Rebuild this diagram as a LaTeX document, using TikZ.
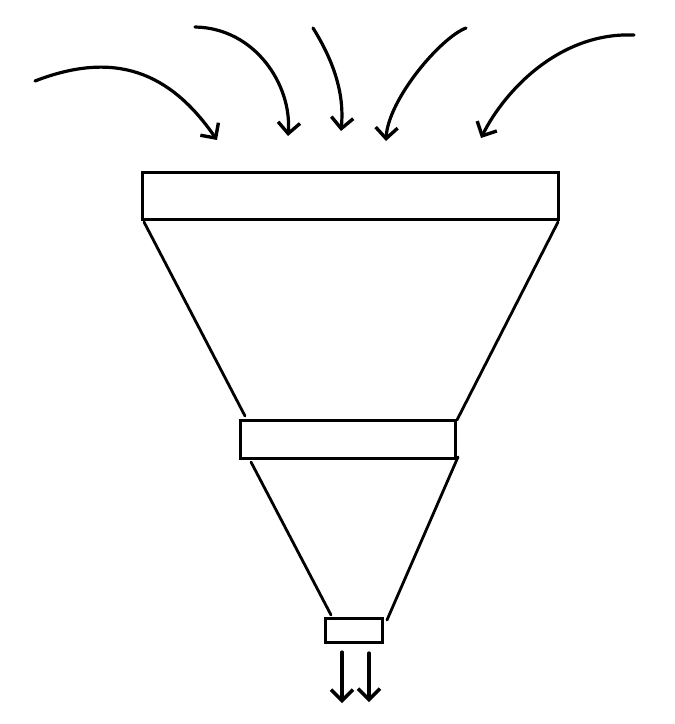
\documentclass[tikz,border=0pt]{standalone}
\usetikzlibrary{arrows.meta}
\begin{document}
\begin{tikzpicture}[x=1pt,y=-1pt,
  pen/.style={line width=3.2pt,line cap=round,line join=round},
  bar/.style={draw,rectangle,inner sep=0pt,line width=3pt},
  side/.style={line width=2.8pt,line cap=round},
  arr/.style={pen,-{Straight Barb[length=11pt,width=22pt,line width=3.4pt]}}]
\useasboundingbox (0,0) rectangle (675,724);
\node[bar,minimum width=416pt,minimum height=47pt] (top) at (350,195.5) {};
\node[bar,minimum width=215pt,minimum height=38pt] (mid) at (347.5,439) {};
\node[bar,minimum width=57pt,minimum height=24pt] (low) at (353.5,630) {};
% funnel sides
\coordinate (a1) at (144,222); \coordinate (a2) at (245,416);
\coordinate (b1) at (558,222); \coordinate (b2) at (457,420);
\coordinate (c1) at (251,462); \coordinate (c2) at (331,615);
\coordinate (d1) at (458,457); \coordinate (d2) at (387,620);
\draw[side] (a1) -- (a2);
\draw[side] (b1) -- (b2);
\draw[side] (c1) -- (c2);
\draw[side] (d1) -- (d2);
% incoming arrows
\coordinate (s1) at (35,81);  \coordinate (t1) at (217,140);
\coordinate (s2) at (195,27); \coordinate (t2) at (288,136);
\coordinate (s3) at (313,28); \coordinate (t3) at (341,131);
\coordinate (s4) at (466,28); \coordinate (t4) at (386,141);
\coordinate (s5) at (634,35); \coordinate (t5) at (481,138);
\draw[arr] (s1) .. controls (115,50) and (170,72) .. (t1);
\draw[arr] (s2) .. controls (255,28) and (292,85) .. (t2);
\draw[arr] (s3) .. controls (338,68) and (344,100) .. (t3);
\draw[arr] (s4) .. controls (440,38) and (388,100) .. (t4);
\draw[arr] (s5) .. controls (560,32) and (505,90) .. (t5);
% outgoing arrows
\coordinate (o1) at (342,703); \coordinate (o2) at (369,702);
\draw[arr] (342,652) -- (o1);
\draw[arr] (369,653) -- (o2);
\end{tikzpicture}
\end{document}
